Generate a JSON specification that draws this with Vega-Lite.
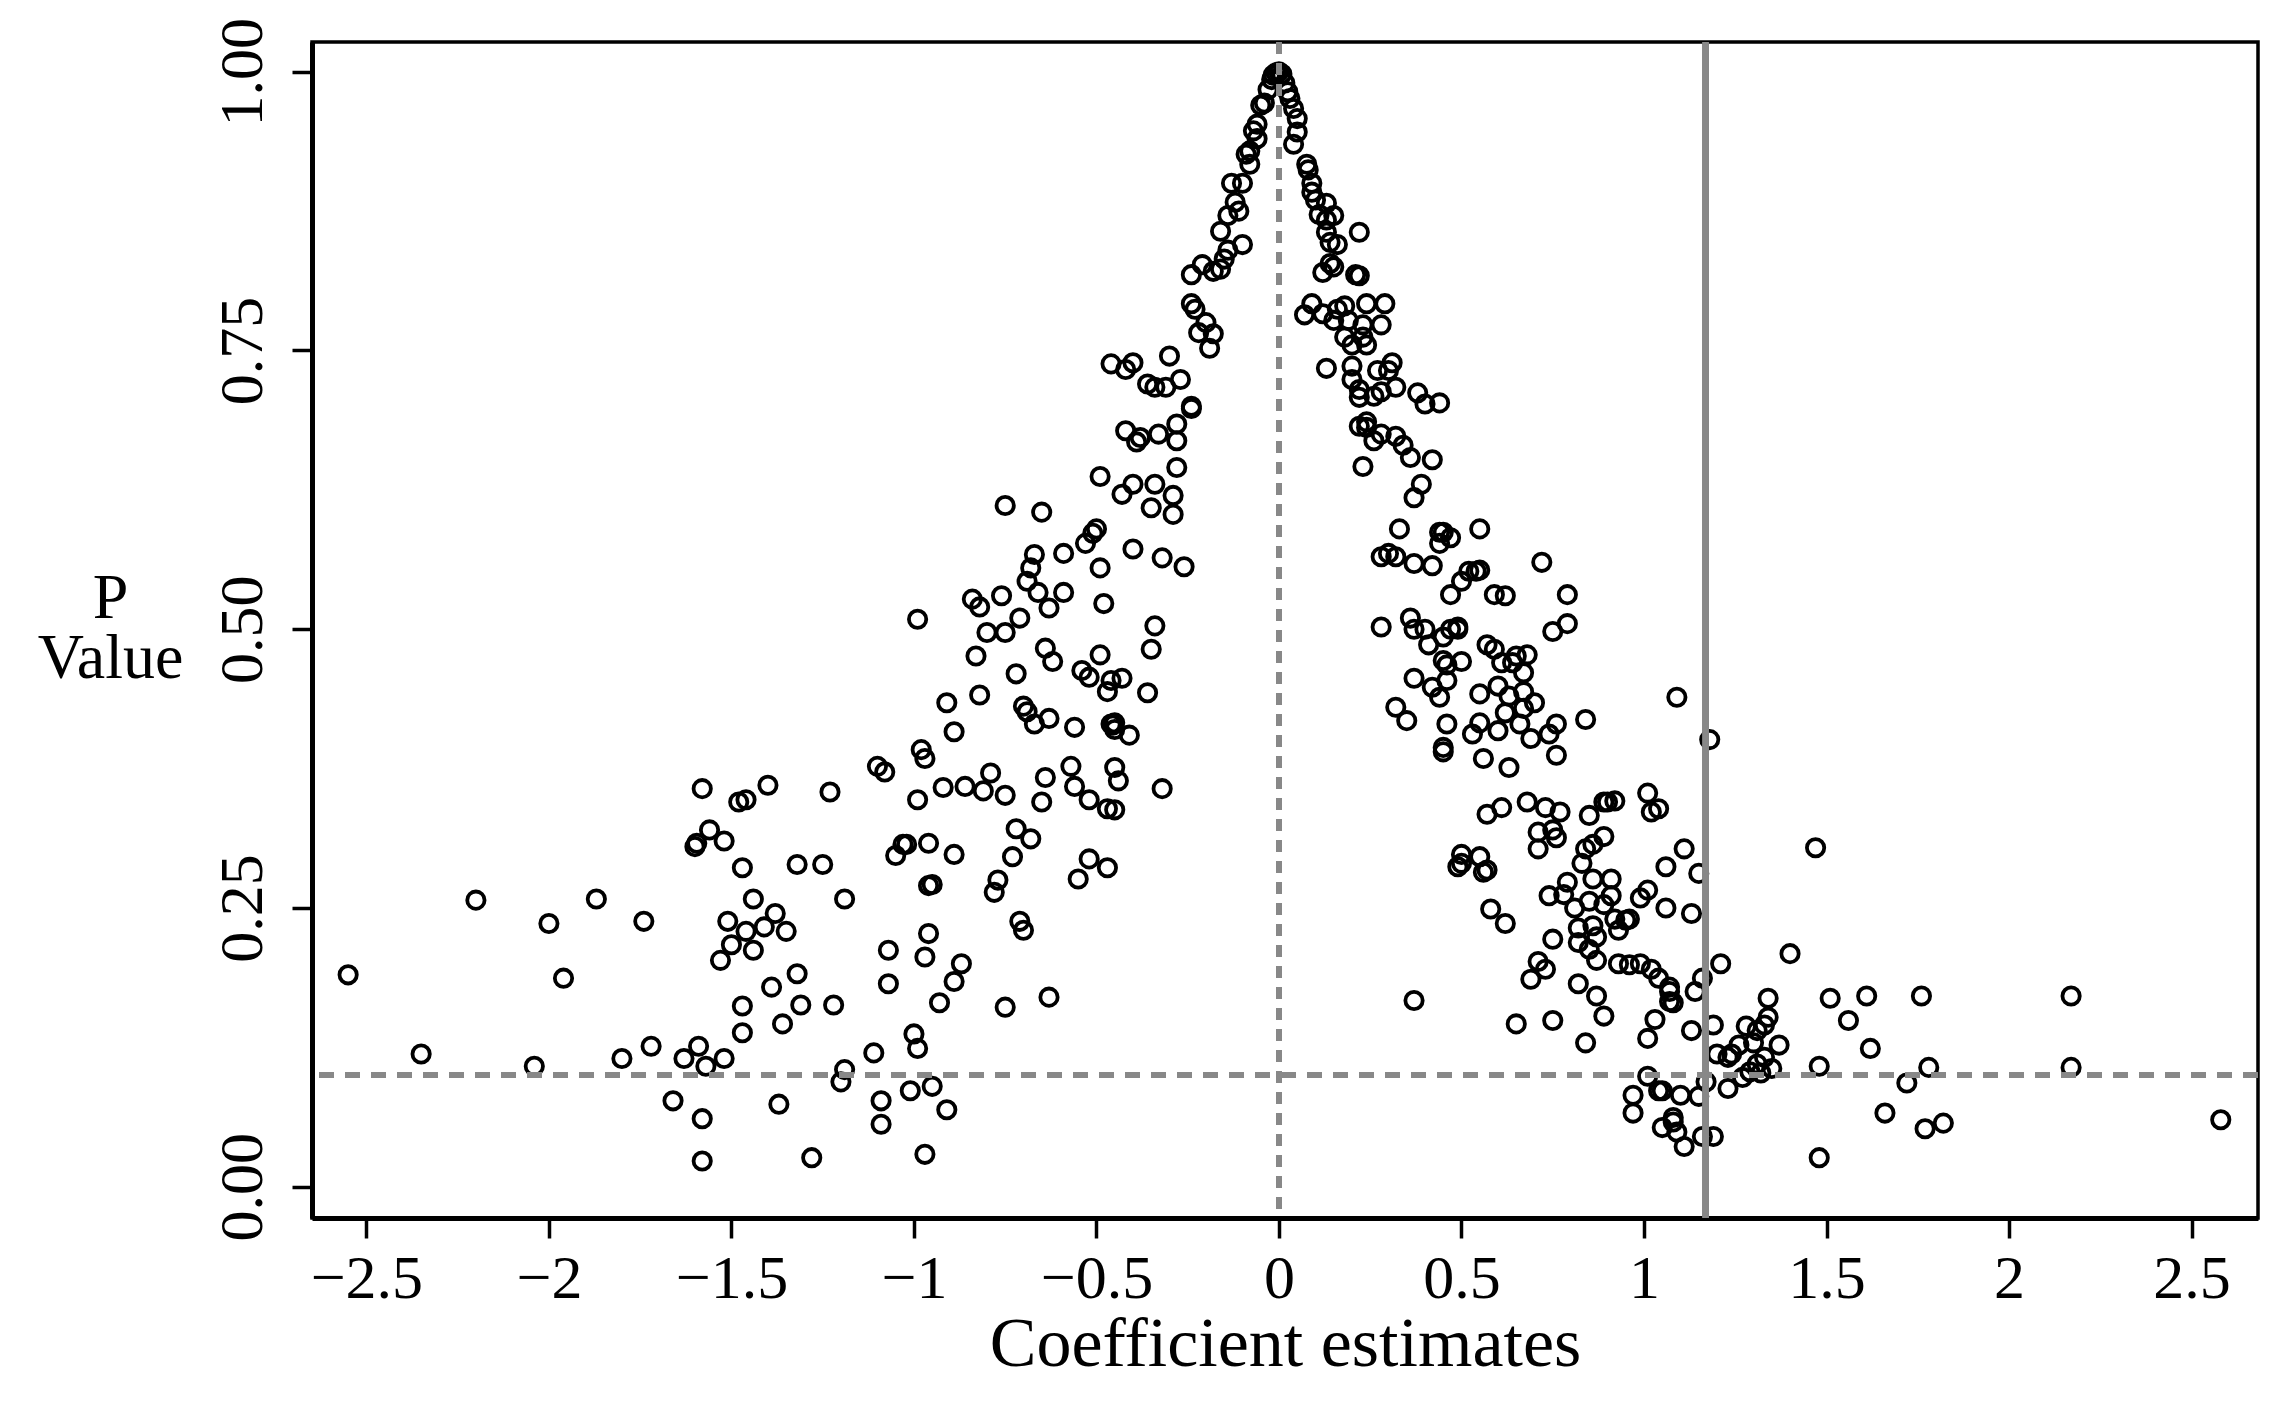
{
"$schema": "https://vega.github.io/schema/vega-lite/v6.json",
"autosize": {"type": "none"},
"padding": {"left": 312, "top": 42, "right": 36, "bottom": 189},
"width": 1946,
"height": 1176,
"background": "white",
"config": {"view": {"stroke": "black", "strokeWidth": 3.5}},
"data": {"values": [
{"x":-2.55,"p":0.19},{"x":-2.35,"p":0.119},{"x":-2.2,"p":0.257},{"x":-2.04,"p":0.108},{"x":-2.0,"p":0.236},{"x":-1.96,"p":0.187},{"x":-1.87,"p":0.258},{"x":-1.8,"p":0.115},{"x":-1.74,"p":0.238},{"x":-1.72,"p":0.126},{"x":-1.66,"p":0.077},{"x":-1.63,"p":0.115},{"x":-1.6,"p":0.305},{"x":-1.595,"p":0.308},{"x":-1.58,"p":0.357},{"x":-1.58,"p":0.061},{"x":-1.58,"p":0.023},{"x":-1.59,"p":0.126},{"x":-1.57,"p":0.108},{"x":-1.56,"p":0.32},{"x":-1.52,"p":0.31},{"x":-1.53,"p":0.203},{"x":-1.52,"p":0.115},{"x":-1.51,"p":0.238},{"x":-1.5,"p":0.217},{"x":-1.48,"p":0.345},{"x":-1.46,"p":0.347},{"x":-1.47,"p":0.138},{"x":-1.47,"p":0.162},{"x":-1.47,"p":0.286},{"x":-1.46,"p":0.229},{"x":-1.44,"p":0.212},{"x":-1.44,"p":0.258},{"x":-1.41,"p":0.233},{"x":-1.4,"p":0.36},{"x":-1.39,"p":0.179},{"x":-1.38,"p":0.245},{"x":-1.37,"p":0.074},{"x":-1.36,"p":0.146},{"x":-1.35,"p":0.229},{"x":-1.32,"p":0.289},{"x":-1.32,"p":0.191},{"x":-1.31,"p":0.163},{"x":-1.28,"p":0.026},{"x":-1.25,"p":0.289},{"x":-1.23,"p":0.354},{"x":-1.22,"p":0.163},{"x":-1.2,"p":0.094},{"x":-1.19,"p":0.105},{"x":-1.19,"p":0.258},{"x":-1.11,"p":0.12},{"x":-1.1,"p":0.377},{"x":-1.09,"p":0.077},{"x":-1.09,"p":0.056},{"x":-1.08,"p":0.372},{"x":-1.07,"p":0.212},{"x":-1.07,"p":0.182},{"x":-1.05,"p":0.297},{"x":-1.03,"p":0.307},{"x":-1.02,"p":0.307},{"x":-1.01,"p":0.086},{"x":-1.0,"p":0.137},{"x":-0.99,"p":0.509},{"x":-0.99,"p":0.124},{"x":-0.99,"p":0.347},{"x":-0.98,"p":0.392},{"x":-0.97,"p":0.029},{"x":-0.97,"p":0.384},{"x":-0.97,"p":0.206},{"x":-0.96,"p":0.308},{"x":-0.96,"p":0.227},{"x":-0.96,"p":0.27},{"x":-0.95,"p":0.271},{"x":-0.95,"p":0.09},{"x":-0.93,"p":0.165},{"x":-0.92,"p":0.358},{"x":-0.91,"p":0.069},{"x":-0.91,"p":0.434},{"x":-0.89,"p":0.298},{"x":-0.89,"p":0.408},{"x":-0.89,"p":0.184},{"x":-0.87,"p":0.2},{"x":-0.86,"p":0.359},{"x":-0.84,"p":0.527},{"x":-0.82,"p":0.441},{"x":-0.83,"p":0.476},{"x":-0.82,"p":0.52},{"x":-0.81,"p":0.355},{"x":-0.8,"p":0.497},{"x":-0.79,"p":0.371},{"x":-0.78,"p":0.264},{"x":-0.77,"p":0.275},{"x":-0.76,"p":0.53},{"x":-0.75,"p":0.351},{"x":-0.75,"p":0.611},{"x":-0.75,"p":0.497},{"x":-0.75,"p":0.161},{"x":-0.73,"p":0.296},{"x":-0.72,"p":0.46},{"x":-0.71,"p":0.51},{"x":-0.72,"p":0.321},{"x":-0.71,"p":0.238},{"x":-0.7,"p":0.23},{"x":-0.7,"p":0.431},{"x":-0.69,"p":0.426},{"x":-0.69,"p":0.543},{"x":-0.68,"p":0.312},{"x":-0.68,"p":0.555},{"x":-0.67,"p":0.415},{"x":-0.67,"p":0.567},{"x":-0.66,"p":0.533},{"x":-0.65,"p":0.345},{"x":-0.65,"p":0.605},{"x":-0.64,"p":0.483},{"x":-0.64,"p":0.367},{"x":-0.63,"p":0.17},{"x":-0.63,"p":0.42},{"x":-0.63,"p":0.519},{"x":-0.62,"p":0.471},{"x":-0.59,"p":0.533},{"x":-0.59,"p":0.568},{"x":-0.57,"p":0.377},{"x":-0.56,"p":0.359},{"x":-0.56,"p":0.412},{"x":-0.55,"p":0.276},{"x":-0.54,"p":0.463},{"x":-0.53,"p":0.577},{"x":-0.52,"p":0.347},{"x":-0.52,"p":0.294},{"x":-0.52,"p":0.457},{"x":-0.51,"p":0.586},{"x":-0.5,"p":0.59},{"x":-0.49,"p":0.555},{"x":-0.49,"p":0.637},{"x":-0.49,"p":0.477},{"x":-0.48,"p":0.523},{"x":-0.47,"p":0.444},{"x":-0.47,"p":0.286},{"x":-0.47,"p":0.339},{"x":-0.46,"p":0.738},{"x":-0.46,"p":0.454},{"x":-0.46,"p":0.415},{"x":-0.45,"p":0.416},{"x":-0.455,"p":0.414},{"x":-0.45,"p":0.41},{"x":-0.45,"p":0.376},{"x":-0.45,"p":0.338},{"x":-0.44,"p":0.364},{"x":-0.43,"p":0.456},{"x":-0.43,"p":0.621},{"x":-0.42,"p":0.678},{"x":-0.42,"p":0.733},{"x":-0.41,"p":0.405},{"x":-0.4,"p":0.63},{"x":-0.4,"p":0.572},{"x":-0.4,"p":0.739},{"x":-0.39,"p":0.668},{"x":-0.38,"p":0.672},{"x":-0.36,"p":0.443},{"x":-0.36,"p":0.72},{"x":-0.35,"p":0.609},{"x":-0.35,"p":0.482},{"x":-0.34,"p":0.63},{"x":-0.34,"p":0.503},{"x":-0.34,"p":0.717},{"x":-0.33,"p":0.675},{"x":-0.32,"p":0.564},{"x":-0.32,"p":0.357},{"x":-0.31,"p":0.717},{"x":-0.3,"p":0.745},{"x":-0.29,"p":0.62},{"x":-0.29,"p":0.603},{"x":-0.28,"p":0.669},{"x":-0.28,"p":0.684},{"x":-0.28,"p":0.645},{"x":-0.27,"p":0.724},{"x":-0.26,"p":0.556},{"x":-0.24,"p":0.698},{"x":-0.24,"p":0.7},{"x":-0.24,"p":0.792},{"x":-0.24,"p":0.818},{"x":-0.23,"p":0.787},{"x":-0.22,"p":0.766},{"x":-0.21,"p":0.827},{"x":-0.2,"p":0.775},{"x":-0.19,"p":0.752},{"x":-0.18,"p":0.765},{"x":-0.18,"p":0.821},{"x":-0.16,"p":0.823},{"x":-0.16,"p":0.857},{"x":-0.15,"p":0.832},{"x":-0.14,"p":0.84},{"x":-0.14,"p":0.871},{"x":-0.13,"p":0.9},{"x":-0.12,"p":0.883},{"x":-0.11,"p":0.875},{"x":-0.1,"p":0.845},{"x":-0.1,"p":0.9},{"x":-0.09,"p":0.926},{"x":-0.08,"p":0.917},{"x":-0.08,"p":0.929},{"x":-0.07,"p":0.947},{"x":-0.06,"p":0.94},{"x":-0.06,"p":0.953},{"x":-0.05,"p":0.97},{"x":-0.04,"p":0.972},{"x":-0.03,"p":0.984},{"x":-0.02,"p":0.993},{"x":-0.016,"p":0.997},{"x":-0.008,"p":0.999},{"x":0.0,"p":1.0},
{"x":0.008,"p":0.998},{"x":0.016,"p":0.99},{"x":0.024,"p":0.982},{"x":0.03,"p":0.976},{"x":0.04,"p":0.967},{"x":0.05,"p":0.958},{"x":0.05,"p":0.946},{"x":0.04,"p":0.935},{"x":0.076,"p":0.917},{"x":0.08,"p":0.912},{"x":0.09,"p":0.9},{"x":0.09,"p":0.892},{"x":0.1,"p":0.885},{"x":0.11,"p":0.872},{"x":0.13,"p":0.882},{"x":0.13,"p":0.867},{"x":0.13,"p":0.856},{"x":0.14,"p":0.847},{"x":0.15,"p":0.871},{"x":0.12,"p":0.82},{"x":0.14,"p":0.828},{"x":0.16,"p":0.845},{"x":0.15,"p":0.825},{"x":0.22,"p":0.856},{"x":0.07,"p":0.782},{"x":0.09,"p":0.792},{"x":0.12,"p":0.783},{"x":0.13,"p":0.734},{"x":0.15,"p":0.777},{"x":0.16,"p":0.787},{"x":0.18,"p":0.762},{"x":0.18,"p":0.79},{"x":0.19,"p":0.777},{"x":0.2,"p":0.755},{"x":0.21,"p":0.818},{"x":0.22,"p":0.817},{"x":0.23,"p":0.762},{"x":0.23,"p":0.773},{"x":0.24,"p":0.755},{"x":0.24,"p":0.792},{"x":0.29,"p":0.792},{"x":0.28,"p":0.773},{"x":0.2,"p":0.724},{"x":0.2,"p":0.736},{"x":0.22,"p":0.715},{"x":0.22,"p":0.708},{"x":0.22,"p":0.682},{"x":0.23,"p":0.646},{"x":0.24,"p":0.686},{"x":0.24,"p":0.681},{"x":0.26,"p":0.669},{"x":0.26,"p":0.709},{"x":0.27,"p":0.732},{"x":0.28,"p":0.713},{"x":0.28,"p":0.675},{"x":0.3,"p":0.732},{"x":0.31,"p":0.739},{"x":0.32,"p":0.717},{"x":0.32,"p":0.673},{"x":0.34,"p":0.665},{"x":0.36,"p":0.654},{"x":0.38,"p":0.712},{"x":0.37,"p":0.618},{"x":0.39,"p":0.63},{"x":0.4,"p":0.702},{"x":0.42,"p":0.652},{"x":0.44,"p":0.703},{"x":0.28,"p":0.565},{"x":0.3,"p":0.568},{"x":0.32,"p":0.565},{"x":0.33,"p":0.59},{"x":0.37,"p":0.559},{"x":0.36,"p":0.51},{"x":0.37,"p":0.5},{"x":0.28,"p":0.502},{"x":0.32,"p":0.43},{"x":0.35,"p":0.418},{"x":0.37,"p":0.456},{"x":0.4,"p":0.5},{"x":0.41,"p":0.486},{"x":0.42,"p":0.448},{"x":0.42,"p":0.557},{"x":0.44,"p":0.577},{"x":0.44,"p":0.587},{"x":0.45,"p":0.587},{"x":0.47,"p":0.582},{"x":0.45,"p":0.493},{"x":0.45,"p":0.472},{"x":0.46,"p":0.468},{"x":0.44,"p":0.439},{"x":0.46,"p":0.454},{"x":0.45,"p":0.394},{"x":0.45,"p":0.39},{"x":0.46,"p":0.415},{"x":0.47,"p":0.531},{"x":0.47,"p":0.5},{"x":0.49,"p":0.5},{"x":0.49,"p":0.502},{"x":0.5,"p":0.471},{"x":0.5,"p":0.543},{"x":0.52,"p":0.552},{"x":0.54,"p":0.552},{"x":0.55,"p":0.553},{"x":0.55,"p":0.59},{"x":0.5,"p":0.298},{"x":0.49,"p":0.287},{"x":0.5,"p":0.29},{"x":0.53,"p":0.406},{"x":0.55,"p":0.442},{"x":0.55,"p":0.416},{"x":0.55,"p":0.296},{"x":0.56,"p":0.282},{"x":0.57,"p":0.284},{"x":0.56,"p":0.384},{"x":0.57,"p":0.334},{"x":0.57,"p":0.486},{"x":0.59,"p":0.482},{"x":0.59,"p":0.531},{"x":0.6,"p":0.409},{"x":0.61,"p":0.34},{"x":0.58,"p":0.249},{"x":0.6,"p":0.449},{"x":0.61,"p":0.47},{"x":0.62,"p":0.53},{"x":0.62,"p":0.425},{"x":0.62,"p":0.236},{"x":0.63,"p":0.376},{"x":0.63,"p":0.44},{"x":0.64,"p":0.47},{"x":0.65,"p":0.476},{"x":0.65,"p":0.146},{"x":0.66,"p":0.415},{"x":0.67,"p":0.444},{"x":0.67,"p":0.461},{"x":0.68,"p":0.477},{"x":0.67,"p":0.429},{"x":0.68,"p":0.345},{"x":0.69,"p":0.402},{"x":0.69,"p":0.186},{"x":0.7,"p":0.434},{"x":0.71,"p":0.202},{"x":0.71,"p":0.318},{"x":0.71,"p":0.303},{"x":0.72,"p":0.56},{"x":0.73,"p":0.34},{"x":0.73,"p":0.195},{"x":0.74,"p":0.261},{"x":0.74,"p":0.406},{"x":0.75,"p":0.32},{"x":0.75,"p":0.498},{"x":0.75,"p":0.222},{"x":0.76,"p":0.415},{"x":0.76,"p":0.387},{"x":0.76,"p":0.313},{"x":0.75,"p":0.149},{"x":0.77,"p":0.336},{"x":0.78,"p":0.262},{"x":0.79,"p":0.273},{"x":0.79,"p":0.505},{"x":0.79,"p":0.531},{"x":0.81,"p":0.25},{"x":0.82,"p":0.219},{"x":0.82,"p":0.182},{"x":0.82,"p":0.232},{"x":0.83,"p":0.29},{"x":0.84,"p":0.129},{"x":0.84,"p":0.303},{"x":0.84,"p":0.419},{"x":0.85,"p":0.333},{"x":0.85,"p":0.256},{"x":0.85,"p":0.213},{"x":0.86,"p":0.234},{"x":0.86,"p":0.307},{"x":0.86,"p":0.276},{"x":0.87,"p":0.203},{"x":0.87,"p":0.224},{"x":0.87,"p":0.171},{"x":0.89,"p":0.345},{"x":0.89,"p":0.153},{"x":0.89,"p":0.314},{"x":0.89,"p":0.253},{"x":0.9,"p":0.345},{"x":0.91,"p":0.276},{"x":0.91,"p":0.261},{"x":0.92,"p":0.24},{"x":0.92,"p":0.346},{"x":0.93,"p":0.2},{"x":0.93,"p":0.23},{"x":0.95,"p":0.239},{"x":0.96,"p":0.24},{"x":0.96,"p":0.199},{"x":0.97,"p":0.066},{"x":0.97,"p":0.082},{"x":0.99,"p":0.2},{"x":0.99,"p":0.259},{"x":1.01,"p":0.353},{"x":1.01,"p":0.266},{"x":1.01,"p":0.099},{"x":1.01,"p":0.133},{"x":1.02,"p":0.336},{"x":1.02,"p":0.195},{"x":1.03,"p":0.15},{"x":1.04,"p":0.086},{"x":1.04,"p":0.187},{"x":1.04,"p":0.339},{"x":1.05,"p":0.086},{"x":1.05,"p":0.053},{"x":1.06,"p":0.287},{"x":1.06,"p":0.25},{"x":1.07,"p":0.179},{"x":1.07,"p":0.175},{"x":1.07,"p":0.166},{"x":1.08,"p":0.165},{"x":1.08,"p":0.062},{"x":1.08,"p":0.058},{"x":1.09,"p":0.049},{"x":1.09,"p":0.439},{"x":1.1,"p":0.082},{"x":1.11,"p":0.303},{"x":1.11,"p":0.036},{"x":1.13,"p":0.245},{"x":1.13,"p":0.14},{"x":1.14,"p":0.175},{"x":1.15,"p":0.081},{"x":1.15,"p":0.281},{"x":1.16,"p":0.187},{"x":1.16,"p":0.045},{"x":1.17,"p":0.094},{"x":1.18,"p":0.401},{"x":1.19,"p":0.045},{"x":1.19,"p":0.145},{"x":1.2,"p":0.119},{"x":1.21,"p":0.2},{"x":1.23,"p":0.116},{"x":1.23,"p":0.088},{"x":1.24,"p":0.119},{"x":1.26,"p":0.127},{"x":1.27,"p":0.098},{"x":1.28,"p":0.144},{"x":1.29,"p":0.103},{"x":1.3,"p":0.129},{"x":1.31,"p":0.14},{"x":1.31,"p":0.11},{"x":1.32,"p":0.102},{"x":1.33,"p":0.145},{"x":1.33,"p":0.116},{"x":1.34,"p":0.169},{"x":1.34,"p":0.152},{"x":1.35,"p":0.106},{"x":1.37,"p":0.127},{"x":1.4,"p":0.209},{"x":1.47,"p":0.304},{"x":1.48,"p":0.026},{"x":1.48,"p":0.108},{"x":1.51,"p":0.169},{"x":1.56,"p":0.149},{"x":1.61,"p":0.171},{"x":1.62,"p":0.124},{"x":1.66,"p":0.066},{"x":1.72,"p":0.093},{"x":1.76,"p":0.171},{"x":1.77,"p":0.052},{"x":1.78,"p":0.107},{"x":1.82,"p":0.057},{"x":2.17,"p":0.171},{"x":2.17,"p":0.107},{"x":2.58,"p":0.06},{"x":0.37,"p":0.167}
]},
"layer": [
{
"mark": {"type": "point", "shape": "circle", "filled": false, "stroke": "black", "strokeWidth": 3.8, "size": 300, "opacity": 1},
"encoding": {
"x": {"field": "x", "type": "quantitative",
"scale": {"domain": [-2.649, 2.682], "nice": false, "zero": false},
"axis": {"title": "Coefficient estimates", "values": [-2.5,-2,-1.5,-1,-0.5,0,0.5,1,1.5,2,2.5], "format": "~g", "grid": false,
"labelFont": "Liberation Serif", "labelFontSize": 62, "labelColor": "black", "labelPadding": 10, "labelFlush": false, "labelOverlap": false, "labelBound": false,
"tickSize": 20, "tickWidth": 3.5, "tickColor": "black", "domainColor": "black", "domainWidth": 5,
"titleFont": "Liberation Serif", "titleFontSize": 70, "titleFontWeight": "normal", "titleColor": "black", "titleY": 147, "titleBaseline": "alphabetic"}},
"y": {"field": "p", "type": "quantitative",
"scale": {"domain": [-0.0281, 1.0267], "nice": false, "zero": false},
"axis": {"title": ["P", "Value"], "values": [0, 0.25, 0.5, 0.75, 1], "format": ".2f", "grid": false,
"labelFont": "Liberation Serif", "labelFontSize": 62, "labelColor": "black", "labelAngle": -90, "labelAlign": "center", "labelBaseline": "bottom", "labelPadding": 18, "labelFlush": false, "labelOverlap": false, "labelBound": false,
"tickSize": 20, "tickWidth": 3.5, "tickColor": "black", "domainColor": "black", "domainWidth": 5,
"titleFont": "Liberation Serif", "titleFontSize": 64, "titleFontWeight": "normal", "titleColor": "black", "titleAngle": 0, "titleX": -202, "titleY": 556, "titleAlign": "center", "titleBaseline": "middle", "titleLineHeight": 60}}
}
},
{
"mark": {"type": "rule", "color": "#888888", "strokeWidth": 5.5, "strokeDash": [15, 11]},
"encoding": {"y": {"datum": 0.1, "type": "quantitative"}}
},
{
"mark": {"type": "rule", "color": "#888888", "strokeWidth": 5.5, "strokeDash": [12, 9]},
"encoding": {"x": {"datum": 0, "type": "quantitative"}}
},
{
"mark": {"type": "rule", "color": "#888888", "strokeWidth": 5.5},
"encoding": {"x": {"datum": 1.169, "type": "quantitative"}}
}
]
}
